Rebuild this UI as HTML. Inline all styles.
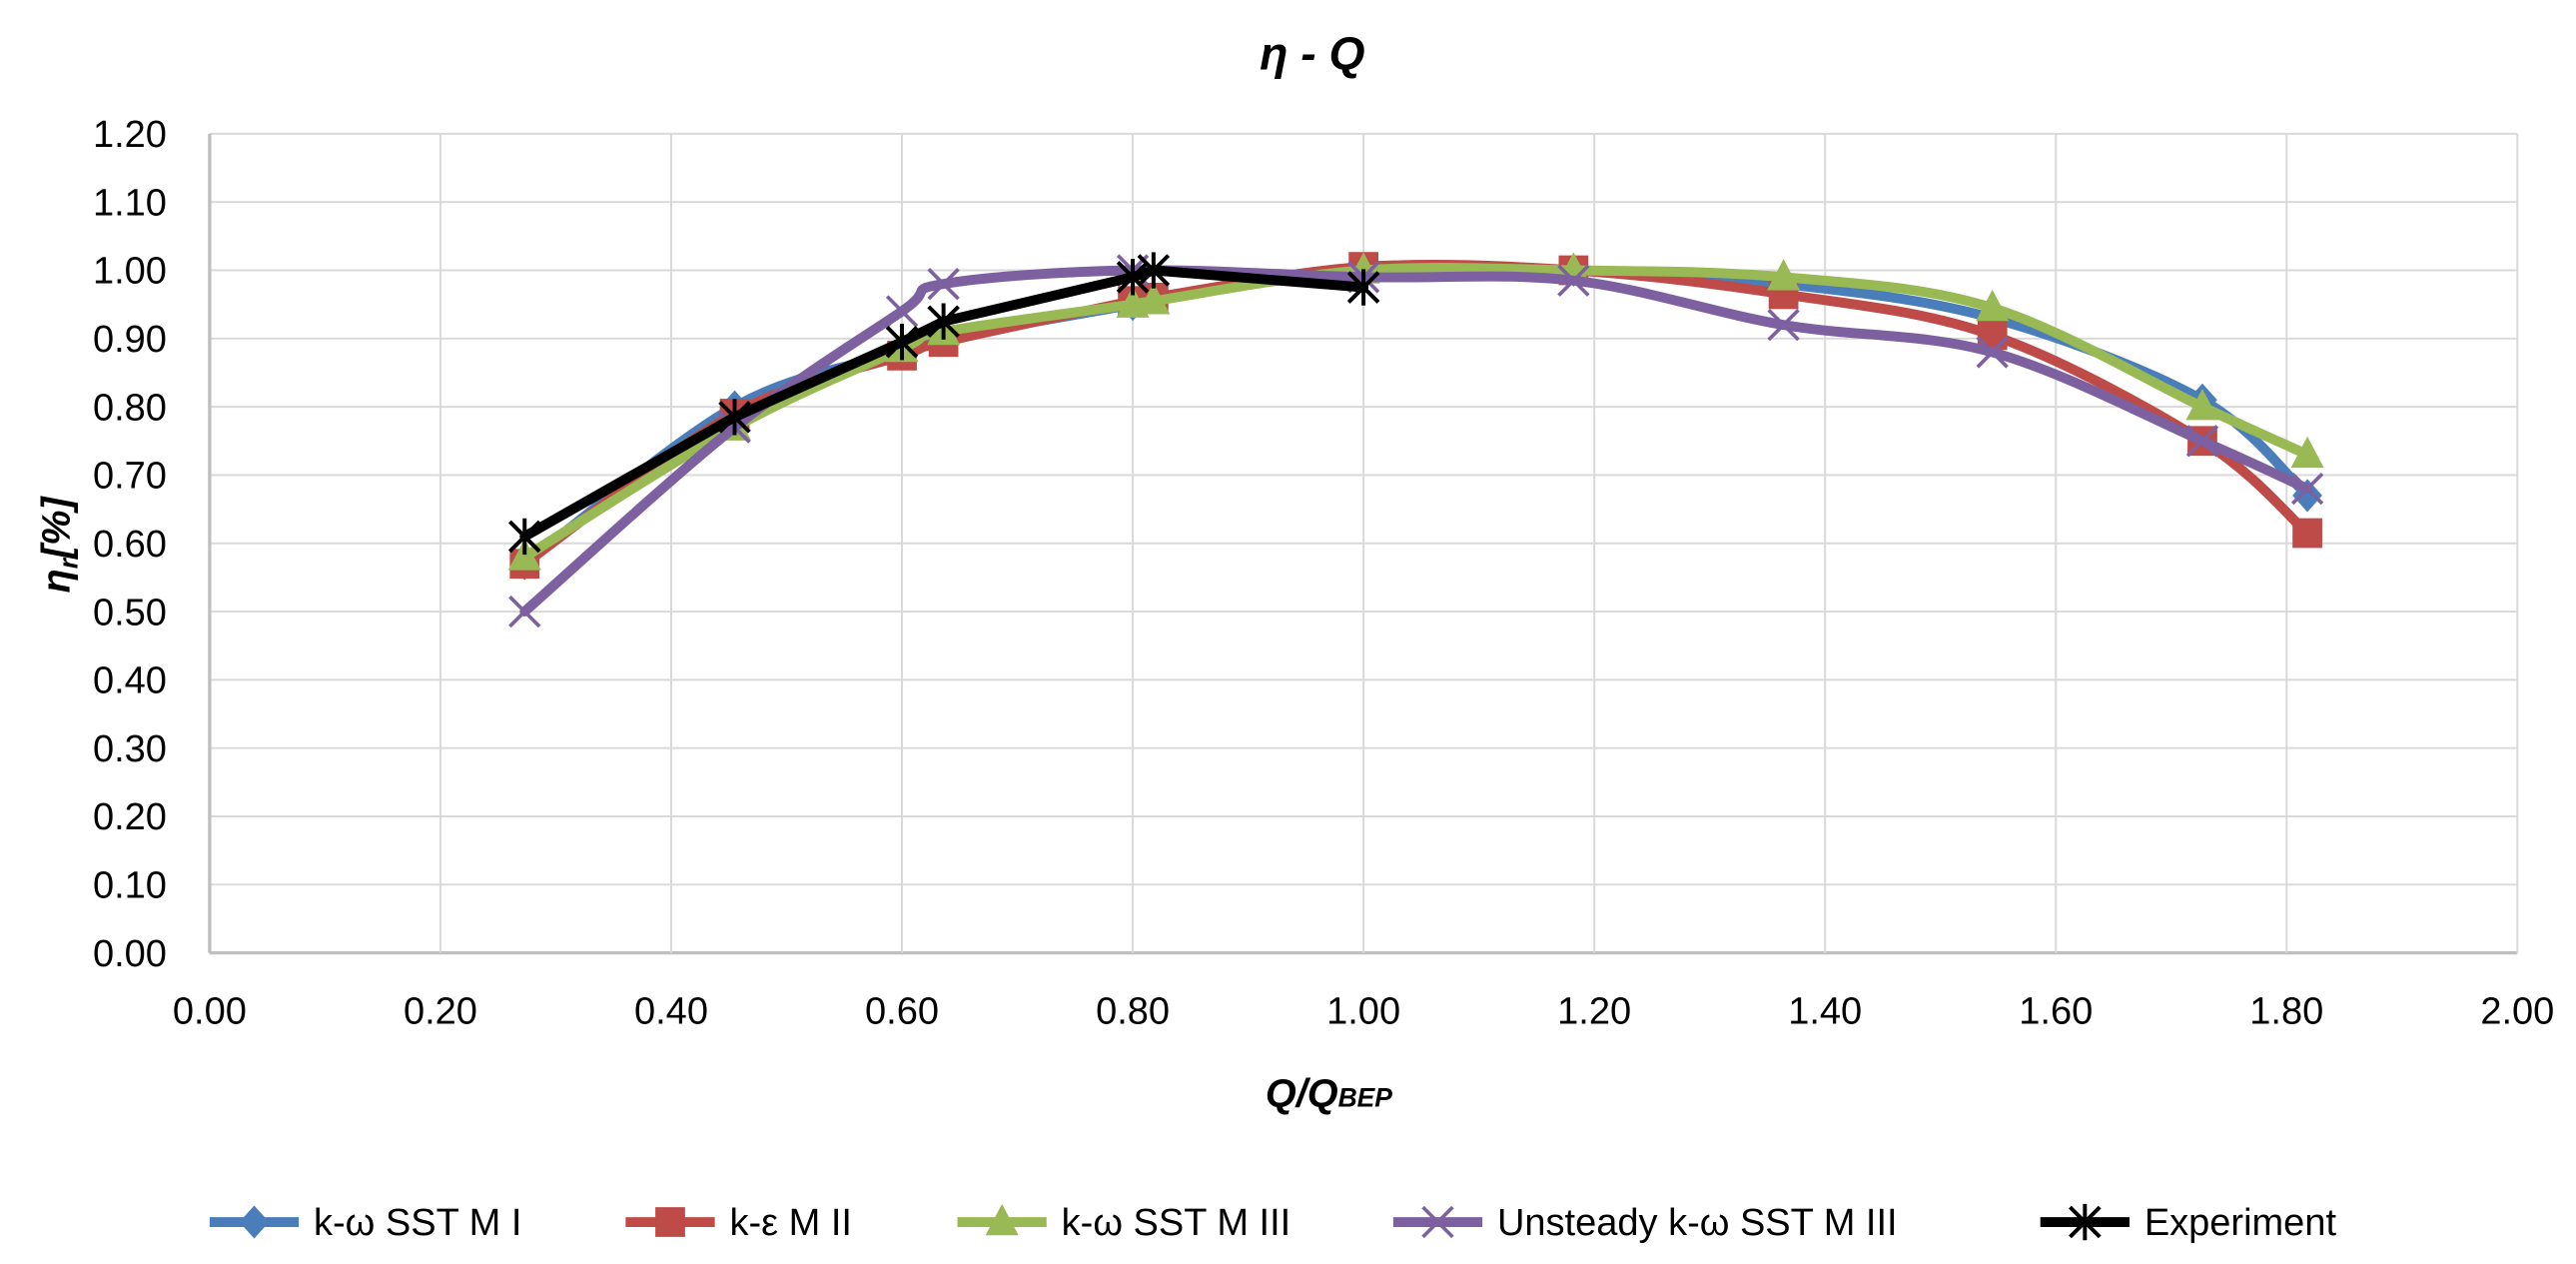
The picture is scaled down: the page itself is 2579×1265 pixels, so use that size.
<!DOCTYPE html>
<html><head><meta charset="utf-8"><style>
html,body{margin:0;padding:0;background:#fff;}
svg{display:block;font-family:"Liberation Sans","DejaVu Sans",sans-serif;}
</style></head><body>
<svg id="chart" width="2579" height="1265" viewBox="0 0 1560.5 765.4" preserveAspectRatio="none" xmlns="http://www.w3.org/2000/svg">
<rect width="1560.5" height="765.4" fill="#fff"/>
<text x="795" y="42" font-size="28" font-weight="bold" font-style="italic" text-anchor="middle">η - Q</text>
<g id="grid"></g>
<g id="series"></g>
<text transform="translate(42,330) rotate(-90)" font-size="24" font-weight="bold" font-style="italic" text-anchor="middle">η<tspan font-size="16" dy="5">r</tspan><tspan dy="-5">[%]</tspan></text>
<text x="805" y="670" font-size="24" font-weight="bold" font-style="italic" text-anchor="middle">Q/Q<tspan font-size="16">BEP</tspan></text>
<g id="legend"></g>
</svg>
<script>
const xTicks=[0,0.2,0.4,0.6,0.8,1.0,1.2,1.4,1.6,1.8,2.0];
const yTicks=[0,0.1,0.2,0.3,0.4,0.5,0.6,0.7,0.8,0.9,1.0,1.1,1.2];
const xA=[0.273,0.455,0.6,0.636,0.8,0.818,1.0,1.182,1.364,1.545,1.727,1.818];
const s1=[0.57,0.80,0.88,0.90,0.95,0.96,1.00,1.00,0.98,0.93,0.81,0.67];
const s2=[0.57,0.79,0.875,0.895,0.955,0.96,1.005,1.0,0.965,0.905,0.75,0.615];
const s3=[0.58,0.77,0.885,0.91,0.95,0.955,1.0,1.0,0.99,0.945,0.80,0.73];
const xP=[0.273,0.455,0.6,0.636,0.8,1.0,1.182,1.364,1.545,1.727,1.818];
const s4=[0.50,0.77,0.94,0.98,1.00,0.99,0.985,0.92,0.88,0.75,0.68];
const xE=[0.273,0.455,0.6,0.636,0.8,0.818,1.0];
const sE=[0.61,0.785,0.895,0.925,0.99,1.00,0.975];
const names=["k-ω SST M I","k-ε M II","k-ω SST M III","Unsteady k-ω SST M III","Experiment"];

const L=127,R=1525,T=81,B=577;
const X=v=>L+(v-0)/2*(R-L);
const Y=v=>B-(v/1.2)*(B-T);
const NS="http://www.w3.org/2000/svg";
function mk(tag,attrs,parent){const e=document.createElementNS(NS,tag);for(const k in attrs)e.setAttribute(k,attrs[k]);parent.appendChild(e);return e;}
const grid=document.getElementById('grid');
yTicks.forEach(v=>{
  const l=mk('line',{x1:L,x2:R,y1:Y(v),y2:Y(v),stroke:v===0?'#bfbfbf':'#d9d9d9','stroke-width':v===0?2:1.2},grid);
  
  
  const t=mk('text',{x:L-26,y:Y(v)+8,'font-size':23,'text-anchor':'end',fill:'#000'},grid);
  t.textContent=v.toFixed(2);
  
  
});
xTicks.forEach(v=>{
  const l=mk('line',{x1:X(v),x2:X(v),y1:T,y2:B,stroke:v===0?'#bfbfbf':'#d9d9d9','stroke-width':v===0?2:1.2},grid);
  
  
  const t=mk('text',{x:X(v),y:B+43,'font-size':23,'text-anchor':'middle',fill:'#000'},grid);
  t.textContent=v.toFixed(2);
  
  
});
function smooth(pts){
  let d=`M${pts[0][0]},${pts[0][1]}`;
  for(let i=0;i<pts.length-1;i++){
    const p0=pts[Math.max(0,i-1)],p1=pts[i],p2=pts[i+1],p3=pts[Math.min(pts.length-1,i+2)];
    const c1=[p1[0]+(p2[0]-p0[0])/6,p1[1]+(p2[1]-p0[1])/6];
    const c2=[p2[0]-(p3[0]-p1[0])/6,p2[1]-(p3[1]-p1[1])/6];
    d+=` C${c1[0]},${c1[1]} ${c2[0]},${c2[1]} ${p2[0]},${p2[1]}`;
  }
  return d;
}
function marker(type,cx,cy,color,g){
  const s=9;
  if(type==='diamond')return mk('polygon',{points:`${cx},${cy-s-1} ${cx+s},${cy} ${cx},${cy+s+1} ${cx-s},${cy}`,fill:color},g);
  if(type==='square')return mk('rect',{x:cx-s,y:cy-s,width:2*s,height:2*s,fill:color},g);
  if(type==='triangle')return mk('polygon',{points:`${cx},${cy-s-2} ${cx+s+1},${cy+s-1} ${cx-s-1},${cy+s-1}`,fill:color},g);
  if(type==='x')return mk('path',{d:`M${cx-s},${cy-s}L${cx+s},${cy+s}M${cx-s},${cy+s}L${cx+s},${cy-s}`,stroke:color,'stroke-width':2.2,fill:'none'},g);
  return mk('path',{d:`M${cx-s},${cy-s}L${cx+s},${cy+s}M${cx-s},${cy+s}L${cx+s},${cy-s}M${cx},${cy-s-2}L${cx},${cy+s+2}`,stroke:color,'stroke-width':2.4,fill:'none'},g);
}
const seriesDef=[
 {xs:xA,ys:s1,c:'#4a7ebb',m:'diamond',sm:true},
 {xs:xA,ys:s2,c:'#be4b48',m:'square',sm:true},
 {xs:xA,ys:s3,c:'#98b954',m:'triangle',sm:true},
 {xs:xP,ys:s4,c:'#7d60a0',m:'x',sm:true},
 {xs:xE,ys:sE,c:'#000',m:'star',sm:false}
];
const sg=document.getElementById('series');
seriesDef.forEach((s,i)=>{
  const g=mk('g',{},sg);
  
  
  const pts=s.xs.map((x,j)=>[X(x),Y(s.ys[j])]);
  const d=s.sm?smooth(pts):'M'+pts.map(p=>p.join(',')).join('L');
  const p=mk('path',{d,stroke:s.c,'stroke-width':6,fill:'none','stroke-linejoin':'round','stroke-linecap':'round'},g);
  
  
  pts.forEach(pt=>{
    const m=marker(s.m,pt[0],pt[1],s.c,g);
    
    
  });
});
const lg=document.getElementById('legend');
const lx=[154,406,607,871,1263];
seriesDef.forEach((s,i)=>{
  const g=mk('g',{},lg);
  
  
  const cy=740;
  const ln=mk('line',{x1:lx[i]-27,x2:lx[i]+27,y1:cy,y2:cy,stroke:s.c,'stroke-width':6},g);
  
  
  const m=marker(s.m,lx[i],cy,s.c,g);
  
  
  const t=mk('text',{x:lx[i]+36,y:cy+8,'font-size':23,fill:'#000'},g);
  t.textContent=names[i];
  
  
});
</script>
</body></html>
